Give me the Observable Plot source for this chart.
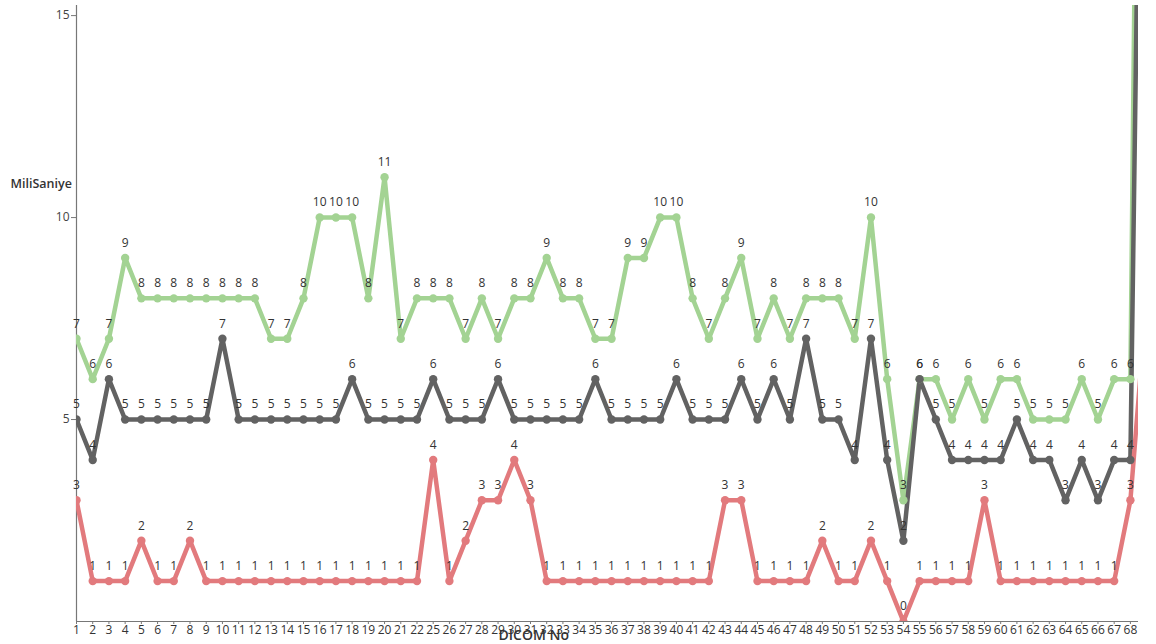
<!DOCTYPE html>
<html>
<head>
<meta charset="utf-8">
<script src="https://cdn.jsdelivr.net/npm/d3@7"></script>
<script src="https://cdn.jsdelivr.net/npm/@observablehq/plot@0.6"></script>
<style>
  html, body { margin: 0; padding: 0; background: #fff; }
  #chart { width: 1156px; height: 644px; overflow: hidden; }
  #chart svg { display: block; }
</style>
</head>
<body>
<div id="chart"></div>
<script>
// DICOM image numbers (x categories); the last one runs past the right edge of the frame
const dicomNo = [
  "1","2","3","4","5","6","7","8","9","10","11","12","13","14","15","16","17","18","19","20","21","22",
  "25","26","27","28","29","30","31","32","33","34","35","36","37","38","39","40","41","42","43","44",
  "45","46","47","48","49","50","51","52","53","54","55","56","57","58","59","60","61","62","63","64",
  "65","66","67","68","69"
];

// Timings in milliseconds, one value per DICOM image
const seriesTop = [
  7,6,7,9,8,8,8,8,8,8,8,8,7,7,8,10,10,10,8,11,7,8,
  8,8,7,8,7,8,8,9,8,8,7,7,9,9,10,10,8,7,8,9,
  7,8,7,8,8,8,7,10,6,3,6,6,5,6,5,6,6,5,5,5,
  6,5,6,6,45
];
const seriesMid = [
  5,4,6,5,5,5,5,5,5,7,5,5,5,5,5,5,5,6,5,5,5,5,
  6,5,5,5,6,5,5,5,5,5,6,5,5,5,5,6,5,5,5,6,
  5,6,5,7,5,5,4,7,4,2,6,5,4,4,4,4,5,4,4,3,
  4,3,4,4,33
];
const seriesLow = [
  3,1,1,1,2,1,1,2,1,1,1,1,1,1,1,1,1,1,1,1,1,1,
  4,1,2,3,3,4,3,1,1,1,1,1,1,1,1,1,1,1,3,3,
  1,1,1,1,2,1,1,2,1,0,1,1,1,1,3,1,1,1,1,1,
  1,1,1,3,8
];

const yTicks = [5, 10, 15];
const yTitle = "MiliSaniye";
const xTitle = "DICOM No";

const seriesColors = {top: "#a3d393", mid: "#626262", low: "#e27a7d"};

const rows = [
  ...seriesTop.map((v, i) => ({i, v, s: "top"})),
  ...seriesMid.map((v, i) => ({i, v, s: "mid"})),
  ...seriesLow.map((v, i) => ({i, v, s: "low"}))
];

// Categories that sit inside the frame get ticks and value labels
const lastInFrame = dicomNo.length - 2;
const xTickIdx = dicomNo.map((d, i) => i).filter(i => i <= lastInFrame);
const labelRows = rows.filter(d => d.i <= lastInFrame);

const font = "'Open Sans', 'Segoe UI', sans-serif";

const chart = Plot.plot({
  width: 1156,
  height: 644,
  marginLeft: 76,
  marginRight: 18,
  marginTop: 5,
  marginBottom: 23,
  style: {fontFamily: font, background: "#fff", overflow: "visible"},
  x: {type: "linear", domain: [0, 65.5]},
  y: {domain: [0, 15.25]},
  marks: [
    Plot.axisX({
      ticks: xTickIdx,
      tickFormat: i => dicomNo[i],
      tickSize: 3,
      tickPadding: 1,
      fontSize: 12,
      fill: "#333",
      stroke: "#777",
      label: null
    }),
    Plot.axisY({
      ticks: yTicks,
      tickSize: 5,
      tickPadding: 2,
      fontSize: 12,
      fill: "#444",
      stroke: "#777",
      label: null
    }),
    Plot.ruleX([0], {stroke: "#777", strokeWidth: 1.2}),
    Plot.ruleY([0], {stroke: "#777", strokeWidth: 1.2}),
    Plot.line(rows, {
      x: "i", y: "v", z: "s",
      stroke: d => seriesColors[d.s],
      strokeWidth: 4.5,
      strokeLinejoin: "round",
      strokeLinecap: "round",
      clip: true
    }),
    Plot.dot(rows, {
      x: "i", y: "v",
      fill: d => seriesColors[d.s],
      r: 4.2,
      clip: true
    }),
    Plot.text(labelRows, {
      x: "i", y: "v",
      text: d => String(d.v),
      dy: -15,
      fontSize: 12,
      fill: "#333"
    }),
    Plot.text([yTitle], {
      y: 10.83,
      frameAnchor: "left",
      textAnchor: "start",
      dx: -66,
      fontSize: 12.5,
      fontWeight: 600,
      fill: "#333"
    }),
    Plot.text([xTitle], {
      x: 28.2,
      frameAnchor: "bottom",
      lineAnchor: "top",
      dy: 9,
      fontSize: 14,
      fontWeight: 600,
      fill: "#333"
    })
  ]
});

document.getElementById("chart").appendChild(chart);
</script>
</body>
</html>
